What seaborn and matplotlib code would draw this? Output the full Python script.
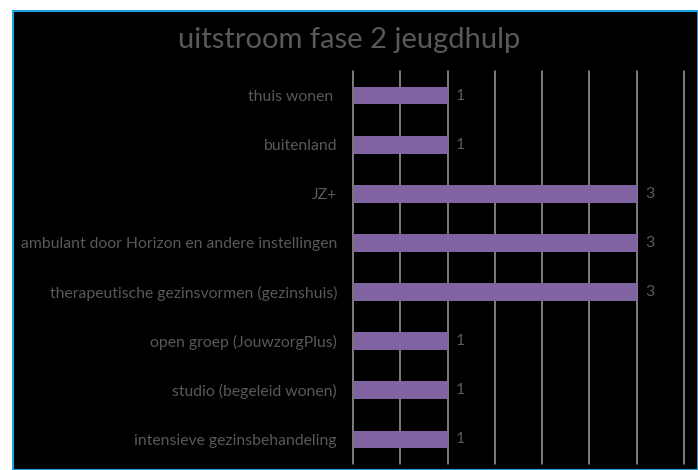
import matplotlib
matplotlib.use("Agg")
import matplotlib.pyplot as plt
import seaborn as sns
import pandas as pd
from matplotlib.patches import Rectangle

# --- data ---
categories = [
    "thuis wonen ",
    "buitenland",
    "JZ+",
    "ambulant door Horizon en andere instellingen",
    "therapeutische gezinsvormen (gezinshuis)",
    "open groep (JouwzorgPlus)",
    "studio (begeleid wonen)",
    "intensieve gezinsbehandeling",
]
values = [1, 1, 3, 3, 3, 1, 1, 1]
grid_ticks = [0, 0.5, 1, 1.5, 2, 2.5, 3, 3.5]

df = pd.DataFrame({"categorie": categories, "aantal": values})

sns.set_style("white")
plt.rcParams["font.family"] = ["Lato", "DejaVu Sans"]

text_grey = "#595959"
bar_purple = "#8064A2"

W, H = 698, 470
fig = plt.figure(figsize=(W / 100, H / 100), dpi=100)
fig.patch.set_facecolor("white")

# black chart area with blue border
fig.patches.append(Rectangle((13 / W, 0), 1 - 13 / W, 1 - 11 / H,
                             transform=fig.transFigure, facecolor="black",
                             edgecolor="#1aa3e0", linewidth=1.5, zorder=-10))

ax = fig.add_axes([353 / W, 1 - 464 / H, (684 - 353) / W, (464 - 71) / H])
ax.set_facecolor("none")
ax.set_zorder(5)

sns.barplot(data=df, y="categorie", x="aantal", orient="h", color=bar_purple,
            width=0.36, saturation=1, linewidth=0, ax=ax, zorder=3)

ax.set_xlim(0, 3.5)
ax.set_ylim(7.5, -0.5)
ax.set_xticks(grid_ticks)
ax.set_xticklabels([])
# vertical gridlines, unclipped so the one at the right edge shows too
for t in grid_ticks:
    ax.axvline(t, color="#a0a0a0", linewidth=1.1, zorder=1, clip_on=False)
for s in ax.spines.values():
    s.set_visible(False)
ax.tick_params(axis="both", length=0)
ax.tick_params(axis="y", labelsize=11.3, labelcolor=text_grey, pad=11.5)
ax.set_xlabel("")
ax.set_ylabel("")

for c in ax.containers:
    ax.bar_label(c, fmt="%d", padding=6, color=text_grey, fontsize=11.5)

fig.text(349 / W, 1 - 40 / H, "uitstroom fase 2 jeugdhulp", ha="center",
         va="center", color=text_grey, fontsize=21)

fig.savefig("out.png", dpi=100, facecolor=fig.get_facecolor())
